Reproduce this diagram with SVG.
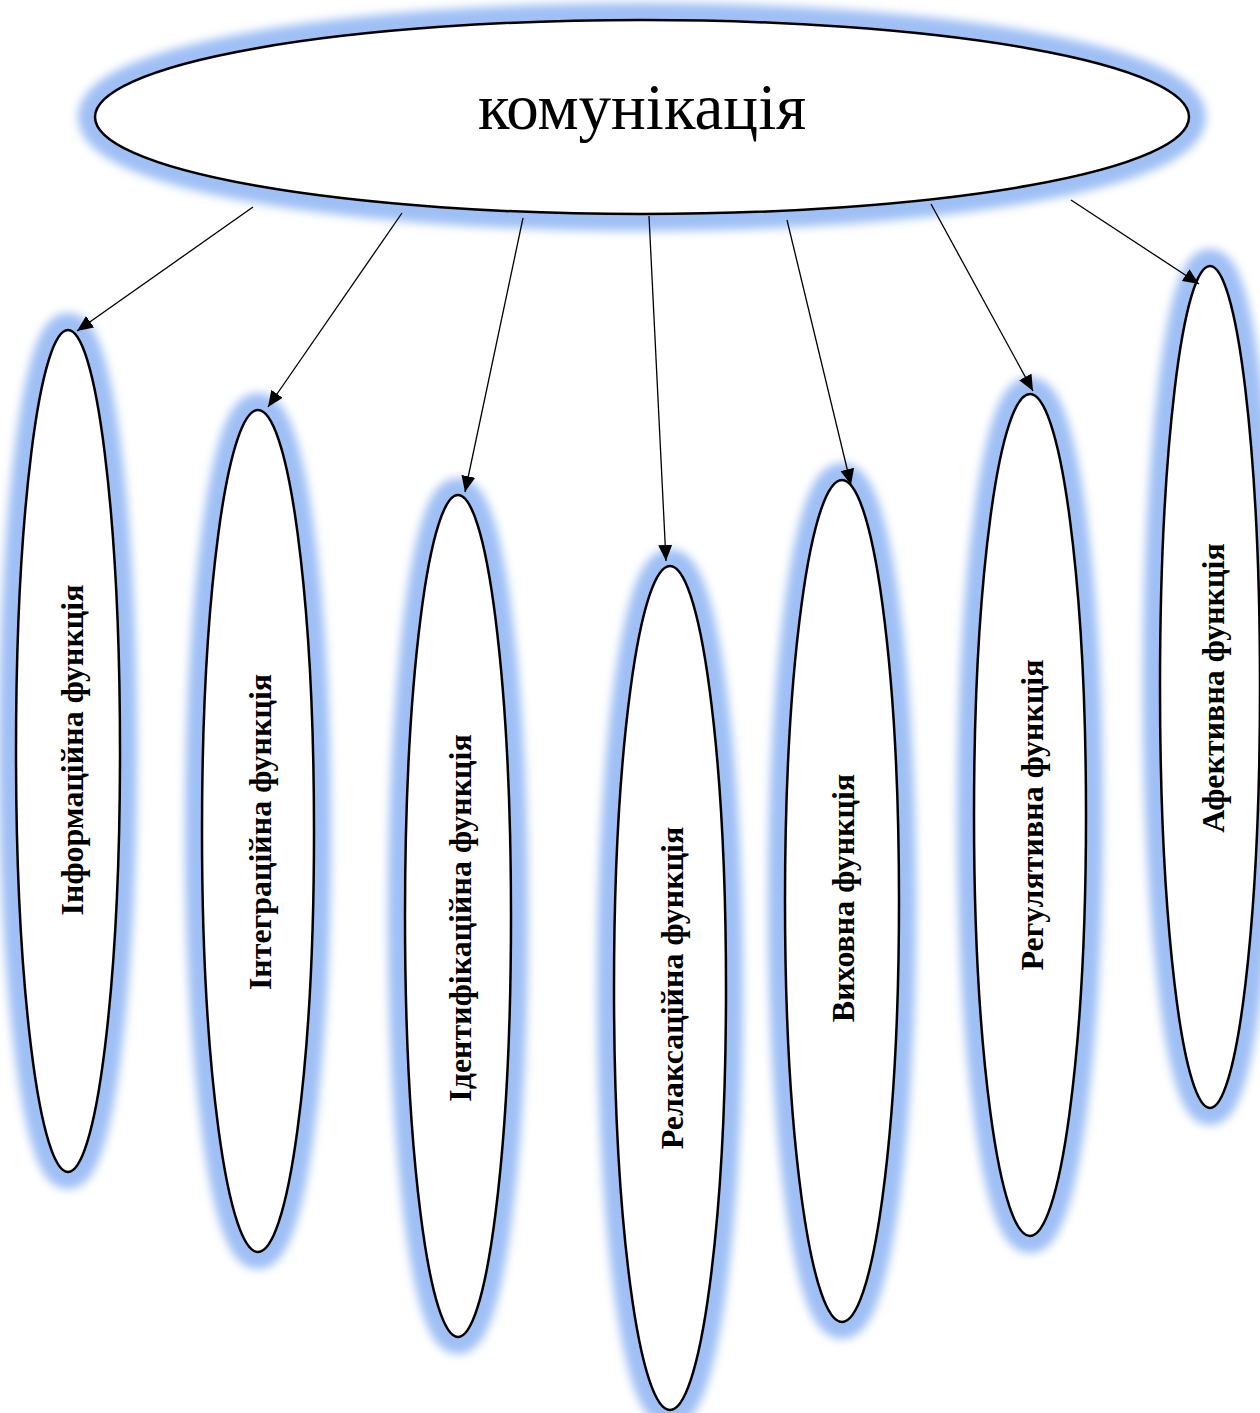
<svg xmlns="http://www.w3.org/2000/svg" width="1260" height="1413" viewBox="0 0 1260 1413">
<defs>
<filter id="glow" x="-60%" y="-20%" width="220%" height="140%">
<feGaussianBlur stdDeviation="5"/>
</filter>
<marker id="arrh" viewBox="0 0 16 14" refX="16" refY="7" markerWidth="16" markerHeight="14" orient="auto" markerUnits="userSpaceOnUse">
<path d="M0,0 L16,7 L0,14 z" fill="#000"/>
</marker>
</defs>
<style>
.glow{fill:none;stroke:#9fbff5;stroke-width:34;filter:url(#glow)}
.shape{fill:#fff;stroke:#000;stroke-width:2.5}
.lbl{font-family:"Liberation Serif","Times New Roman",serif;font-weight:bold;font-size:32px;fill:#000;text-anchor:middle;dominant-baseline:central}
.title{font-family:"Liberation Serif","Times New Roman",serif;font-size:65px;fill:#000;text-anchor:middle}
.conn{stroke:#000;stroke-width:1.3;fill:none;marker-end:url(#arrh)}
</style>
<rect width="1260" height="1413" fill="#fff"/>
<g id="root">
<ellipse class="glow" cx="642" cy="117" rx="547" ry="97"/>
<ellipse class="shape" cx="642" cy="117" rx="547" ry="97"/>
<text class="title" x="642" y="129">комунікація</text>
</g>
<g id="f1">
<ellipse class="glow" cx="68" cy="751" rx="52" ry="421"/>
<ellipse class="shape" cx="68" cy="751" rx="52" ry="421"/>
<text class="lbl" transform="translate(72,750) rotate(-90)">Інформаційна функція</text>
</g>
<g id="f2">
<ellipse class="glow" cx="258" cy="831" rx="56" ry="421"/>
<ellipse class="shape" cx="258" cy="831" rx="56" ry="421"/>
<text class="lbl" transform="translate(260,832) rotate(-90)">Інтеграційна функція</text>
</g>
<g id="f3">
<ellipse class="glow" cx="458" cy="916" rx="53" ry="421"/>
<ellipse class="shape" cx="458" cy="916" rx="53" ry="421"/>
<text class="lbl" transform="translate(460,918) rotate(-90)">Ідентифікаційна функція</text>
</g>
<g id="f4">
<ellipse class="glow" cx="670" cy="988" rx="56" ry="422"/>
<ellipse class="shape" cx="670" cy="988" rx="56" ry="422"/>
<text class="lbl" transform="translate(672,988) rotate(-90)">Релаксаційна функція</text>
</g>
<g id="f5">
<ellipse class="glow" cx="842" cy="901" rx="57" ry="421"/>
<ellipse class="shape" cx="842" cy="901" rx="57" ry="421"/>
<text class="lbl" transform="translate(843,898) rotate(-90)">Виховна функція</text>
</g>
<g id="f6">
<ellipse class="glow" cx="1030" cy="815" rx="56" ry="421"/>
<ellipse class="shape" cx="1030" cy="815" rx="56" ry="421"/>
<text class="lbl" transform="translate(1032,815) rotate(-90)">Регулятивна функція</text>
</g>
<g id="f7">
<ellipse class="glow" cx="1210" cy="687" rx="50" ry="421"/>
<ellipse class="shape" cx="1210" cy="687" rx="50" ry="421"/>
<text class="lbl" transform="translate(1213,688) rotate(-90)">Афективна функція</text>
</g>
<g id="connectors">
<line class="conn" x1="253" y1="207" x2="77" y2="331"/>
<line class="conn" x1="402" y1="213" x2="268" y2="407"/>
<line class="conn" x1="523" y1="218" x2="465" y2="492"/>
<line class="conn" x1="649" y1="216" x2="666" y2="561"/>
<line class="conn" x1="787" y1="220" x2="851" y2="485"/>
<line class="conn" x1="931" y1="204" x2="1033" y2="391"/>
<line class="conn" x1="1071" y1="200" x2="1199" y2="284"/>
</g>
</svg>
